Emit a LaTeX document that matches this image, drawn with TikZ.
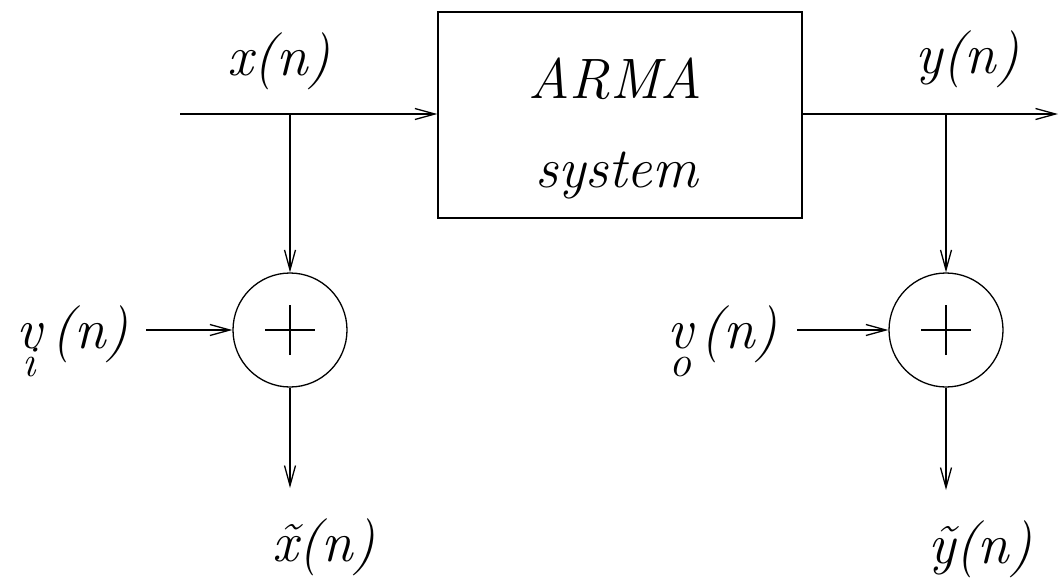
\documentclass[tikz,border=0pt]{standalone}
\usepackage{fontspec}
\usetikzlibrary{arrows.meta}
\newcommand{\vsub}[1]{\makebox[0pt][c]{v}\makebox[0pt][c]{\raisebox{-28pt}{\fontsize{44}{50}\selectfont #1}}}
\begin{document}
\begin{tikzpicture}[x=1pt,y=-1pt,
  line width=1.3pt,
  arr/.style={-{Straight Barb[length=20pt,width=11pt,line width=1.3pt]}},
  lbl/.style={font=\fontsize{57}{63}\selectfont\itshape, inner sep=0pt, anchor=base},
  sumnode/.style={circle, draw, minimum size=114pt, inner sep=0pt},
  sysbox/.style={draw, minimum width=364pt, minimum height=206pt, inner sep=0pt}]
\useasboundingbox (0,0) rectangle (1059,579);

% system block
\node[sysbox] (sys) at (620,115) {};
\node[lbl] (arma) at (615,98) {ARMA};
\node[lbl] (system) at (617,187) {system};

% input / output lines
\coordinate (in) at (180,114);
\coordinate (bx) at (290,114);
\coordinate (by) at (946,114);
\coordinate (out) at (1058,114);
\draw[arr] (in) -- (sys.west |- in);
\draw[arr] (sys.east |- out) -- (out);

% summing nodes
\node[sumnode] (s1) at (290,330) {};
\node[sumnode] (s2) at (946,330) {};
\foreach \s in {s1,s2}{
  \draw ([xshift=-25pt]\s.center) -- ([xshift=25pt]\s.center);
  \draw ([yshift=-25pt]\s.center) -- ([yshift=25pt]\s.center);
}
\draw[arr] (bx) -- (s1.north);
\draw[arr] (by) -- (s2.north);

\coordinate (vi) at (146,330);
\coordinate (vo) at (797,330);
\draw[arr] (vi) -- (s1.west);
\draw[arr] (vo) -- (s2.west);

\coordinate (xt) at (290,488);
\coordinate (yt) at (946,490);
\draw[arr] (s1.south) -- (xt);
\draw[arr] (s2.south) -- (yt);

% labels
\node[lbl] (xl) at (279,75) {x(n)};
\node[lbl] (yl) at (967,73) {y(n)};

\node[lbl] (v1) at (29,348) {\vsub{i}};
\node[lbl] (n1) at (90,348) {(n)};

\node[lbl] (v2) at (680,348) {\vsub{o}};
\node[lbl] (n2) at (739,348) {(n)};

\node[lbl] (xtl) at (324,561) {\accent"02DC x(n)};
\node[lbl] (ytl) at (980,563) {\accent"02DC y(n)};
\end{tikzpicture}
\end{document}
